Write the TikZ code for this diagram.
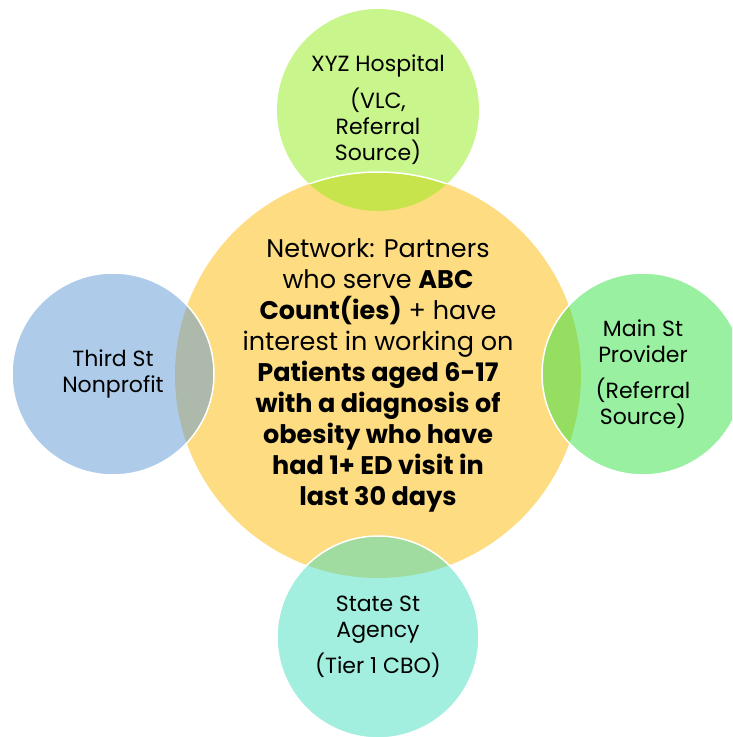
\documentclass[tikz,border=0pt]{standalone}
\usepackage{fontspec}
\setmainfont{Poppins}
\definecolor{hubfill}{RGB}{253,220,130}
\definecolor{topfill}{RGB}{147,237,25}
\definecolor{leftfill}{RGB}{93,151,213}
\definecolor{rightfill}{RGB}{49,225,65}
\definecolor{botfill}{RGB}{69,221,191}
\begin{document}
\begin{tikzpicture}[x=1pt,y=1pt,
    hub/.style={circle, minimum size=406pt, inner sep=0pt, fill=hubfill,
      align=center, font=\fontsize{25.5}{31}\selectfont},
    sat/.style={circle, minimum size=202pt, inner sep=0pt, fill=#1,
      fill opacity=0.5, text opacity=1, align=center,
      font=\fontsize{22}{26}\selectfont},
    rim/.style={draw=white, line width=1.5pt}]
    \useasboundingbox (0,0) rectangle (732,737);
    \clip (0,0) rectangle (732,737);

    % centre circle
    \node[hub] (hub) at (378,362) {Network: Partners\\
      who serve \textbf{ABC}\\
      \textbf{Count(ies)} + have\\
      interest in working on\\
      \textbf{Patients aged 6-17}\\
      \textbf{with a diagnosis of}\\
      \textbf{obesity who have}\\
      \textbf{had 1+ ED visit in}\\
      \textbf{last 30 days}};

    % partner circles
    \node[sat=topfill] (hosp) at (378,627) {XYZ Hospital\\[10pt] (VLC,\\ Referral\\ Source)};
    \begin{scope}
      \clip (hosp.center) circle (101);
      \draw[rim] (hub.center) circle (203);
    \end{scope}
    \node[sat=leftfill, rim] (nonprofit) at (113,363) {Third St\\ Nonprofit};
    \node[sat=rightfill, rim] (provider) at (643,363) {Main St\\ Provider\\[10pt] (Referral\\ Source)};
    \node[sat=botfill, rim] (agency) at (378,100) {State St\\ Agency\\[8pt] (Tier 1 CBO)};
\end{tikzpicture}
\end{document}
